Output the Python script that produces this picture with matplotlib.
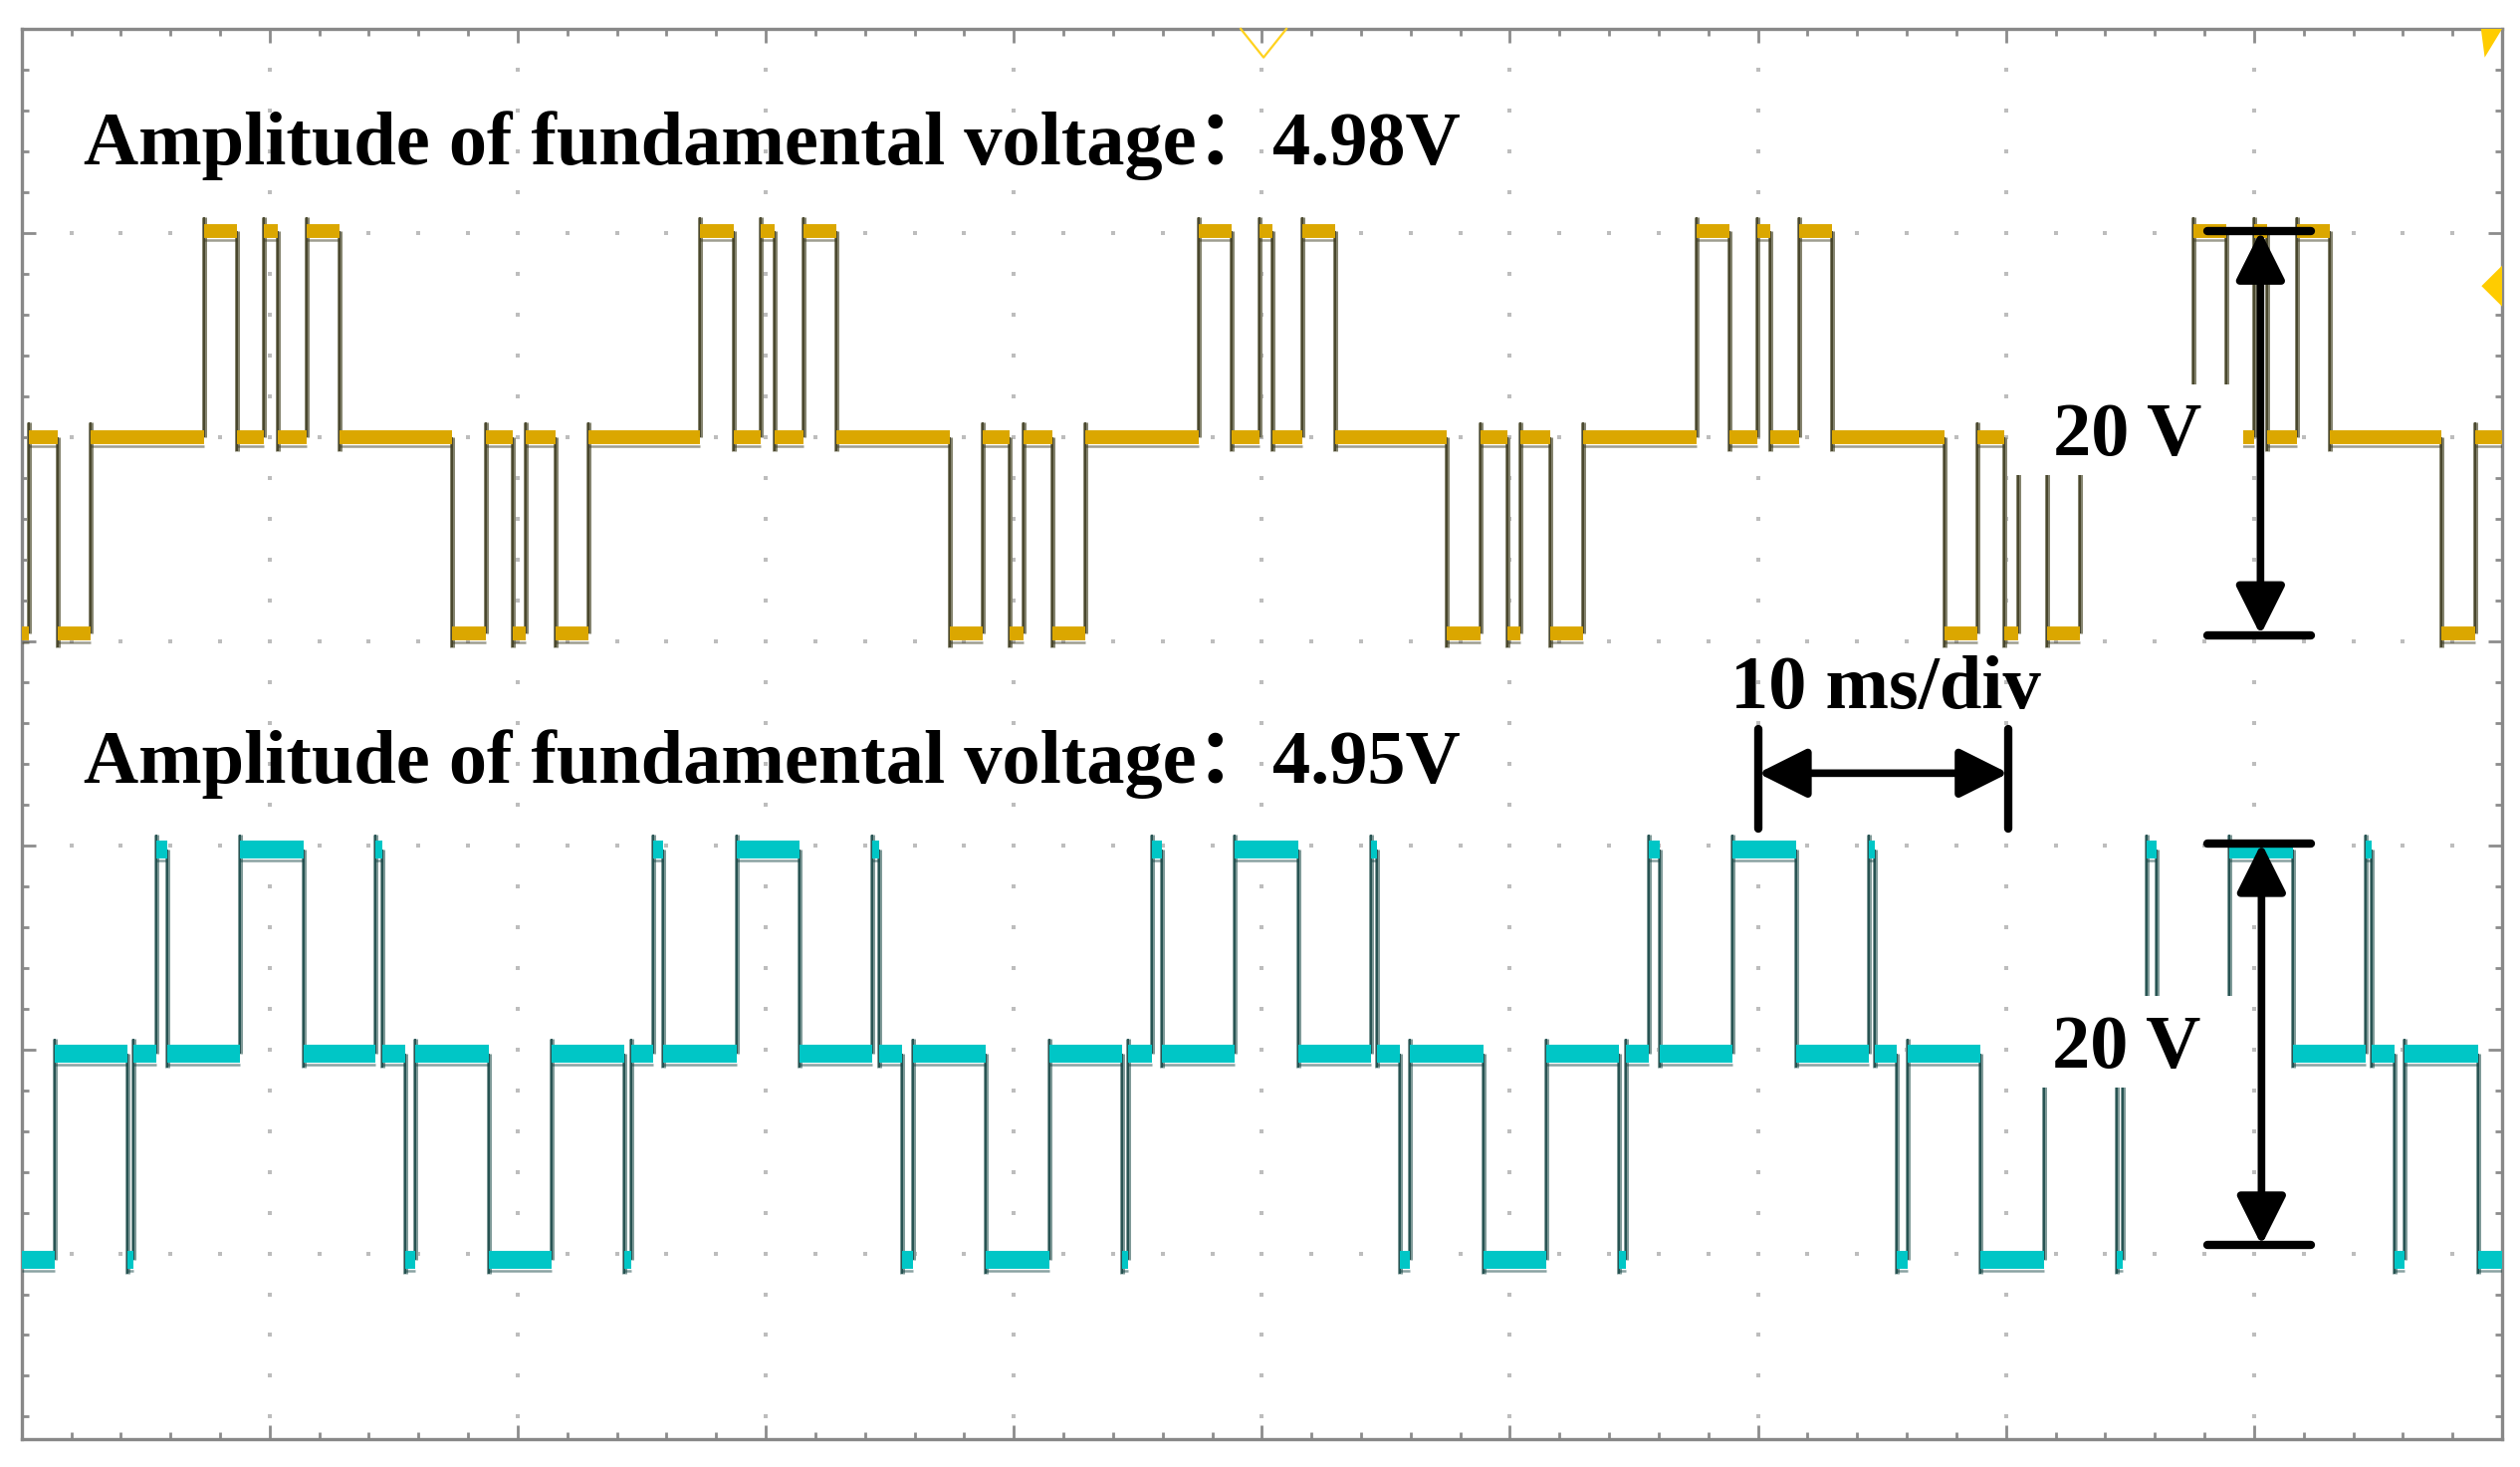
import numpy as np
import matplotlib.pyplot as plt
from matplotlib.patches import Rectangle, FancyArrowPatch, Polygon
from matplotlib.collections import LineCollection

# screen: 10 ms/div horizontally (ms), vertical in scope divisions
t_min, t_max = 0.0, 100.0
y_min, y_max = 0.09, 7.0

# switching edges of one half-wave (ms, relative to its centre); pulses lie between pairs
yellow_edges = [-2.74, -1.40, -0.30, 0.24, 1.42, 2.74]
cyan_edges = [-4.64, -4.22, -1.28, 1.28, 4.20, 4.46]

# half-wave centres (ms)
pos_centres = [10.08, 30.10, 50.20, 70.26, 90.30]
neg_centres = [0.05, 20.10, 40.15, 60.20, 80.25, 100.30]

# trace levels in divisions for -1, 0, +1
yellow_levels = [4.04, 5.00, 6.01]
cyan_levels = [0.97, 1.98, 2.98]

titles = ['Amplitude of fundamental voltage：4.98V',
          'Amplitude of fundamental voltage：4.95V']
time_label = '10 ms/div'
volt_label = '20 V'


def build_segments(edges):
    pulses = []
    for c in pos_centres:
        for a, b in zip(edges[::2], edges[1::2]):
            pulses.append((c + a, c + b, 2))
    for c in neg_centres:
        for a, b in zip(edges[::2], edges[1::2]):
            pulses.append((c + a, c + b, 0))
    pulses.sort()
    segs = []
    cur = t_min
    for a, b, k in pulses:
        if b <= t_min or a >= t_max:
            continue
        a, b = max(a, t_min), min(b, t_max)
        if a > cur:
            segs.append((cur, a, 1))
        segs.append((a, b, k))
        cur = b
    if cur < t_max:
        segs.append((cur, t_max, 1))
    return segs


def draw_trace(ax, edges, levels, band, edge_col, core_col, band_lw, dark):
    segs = build_segments(edges)
    verts = []
    for (a0, b0, k0), (a1, b1, k1) in zip(segs[:-1], segs[1:]):
        y0, y1 = levels[k0], levels[k1]
        over = 0.07 if y1 > y0 else -0.07
        verts.append([(b0, y0), (b0, y1 + over)])
    ax.add_collection(LineCollection(verts, colors=edge_col, linewidths=3.6, zorder=2))
    ax.add_collection(LineCollection(verts, colors=core_col, linewidths=1.2, zorder=2.1))
    hs = [[(a, levels[k]), (b, levels[k])] for a, b, k in segs]
    ax.add_collection(LineCollection(hs, colors=band, linewidths=band_lw,
                                     capstyle='butt', zorder=3))
    hd = [[(a, levels[k] - dark), (b, levels[k] - dark)] for a, b, k in segs]
    ax.add_collection(LineCollection(hd, colors=core_col, linewidths=1.8,
                                     alpha=0.5, capstyle='butt', zorder=3.1))


fig = plt.figure(figsize=(25.31, 14.73), dpi=100)
ax = fig.add_axes([0.00857, 0.01901, 0.98432, 0.9613])
ax.set_xlim(t_min, t_max)
ax.set_ylim(y_min, y_max)

# graticule
grid_col = '#bdbdbd'
for x in np.arange(10, 100, 10):
    ys = np.arange(0.2, 7.0, 0.2)
    ax.plot(np.full_like(ys, x), ys, ls='none', marker='s', ms=2.2, mew=0,
            color=grid_col, zorder=1)
for y in range(1, 7):
    xs = np.arange(2, 100, 2)
    ax.plot(xs, np.full_like(xs, y), ls='none', marker='s', ms=2.2, mew=0,
            color=grid_col, zorder=1)

ax.set_xticks(np.arange(0, 101, 10))
ax.set_xticks(np.arange(0, 101, 2), minor=True)
ax.set_yticks(np.arange(1, 8, 1))
ax.set_yticks(np.arange(0.2, 7.0, 0.2), minor=True)
ax.tick_params(which='both', direction='in', top=True, right=True, bottom=True, left=True,
               labelbottom=False, labelleft=False, color='#8c8c8c', width=2)
ax.tick_params(which='major', length=10)
ax.tick_params(which='minor', length=5)
for s in ax.spines.values():
    s.set_color('#888888')
    s.set_linewidth(2.4)

# traces
draw_trace(ax, yellow_edges, yellow_levels, '#dba700', '#85846f', '#3f3d22', 10.0, 0.045)
draw_trace(ax, cyan_edges, cyan_levels, '#00c6c6', '#7f9a98', '#174646', 13.0, 0.055)

# scope markers
ax.plot([49.15, 50.07, 50.99], [7.0, 6.86, 7.0], color='#ffd21f', lw=1.6, zorder=4, clip_on=False)
ax.add_patch(Polygon([(99.17, 5.74), (100, 5.84), (100, 5.64)], closed=True,
                     fc='#ffcc00', ec='none', zorder=4))
ax.add_patch(Polygon([(99.15, 7.0), (100, 7.0), (99.3, 6.86)], closed=True,
                     fc='#ffcc00', ec='none', zorder=4))

# white boxes behind the 20 V labels
for yb in (4.815, 1.815):
    ax.add_patch(Rectangle((80.1, yb), 9.45, 0.445, fc='white', ec='none', zorder=4))

fam = ['Liberation Serif', 'Noto Sans CJK SC']
tkw = dict(fontsize=55, fontweight='bold', family=fam, color='black', zorder=6, va='baseline')
ax.text(2.5, 6.337, titles[0], ha='left', **tkw)
ax.text(2.5, 3.304, titles[1], ha='left', **tkw)
ax.text(75.13, 3.673, time_label, ha='center', **tkw)
ax.text(84.88, 4.912, volt_label, ha='center', **tkw)
ax.text(84.85, 1.912, volt_label, ha='center', **tkw)

akw = dict(arrowstyle='<|-|>,head_length=30,head_width=15', mutation_scale=1,
           lw=5.5, color='black', shrinkA=0, shrinkB=0, zorder=6)
# 20 V markers
for ylo, yhi, xa in ((4.03, 6.01, 90.26), (1.04, 3.01, 90.30)):
    ax.add_patch(FancyArrowPatch((xa, ylo), (xa, yhi), **akw))
    for yy in (ylo, yhi):
        ax.plot([88.1, 92.3], [yy, yy], color='black', lw=6, solid_capstyle='round', zorder=6)

# 10 ms/div marker
ax.add_patch(FancyArrowPatch((70.0, 3.353), (80.1, 3.353), **akw))
for xx in (70.0, 80.1):
    ax.plot([xx, xx], [3.083, 3.571], color='black', lw=6, solid_capstyle='round', zorder=6)

fig.savefig('out.png', dpi=100, facecolor='white')
